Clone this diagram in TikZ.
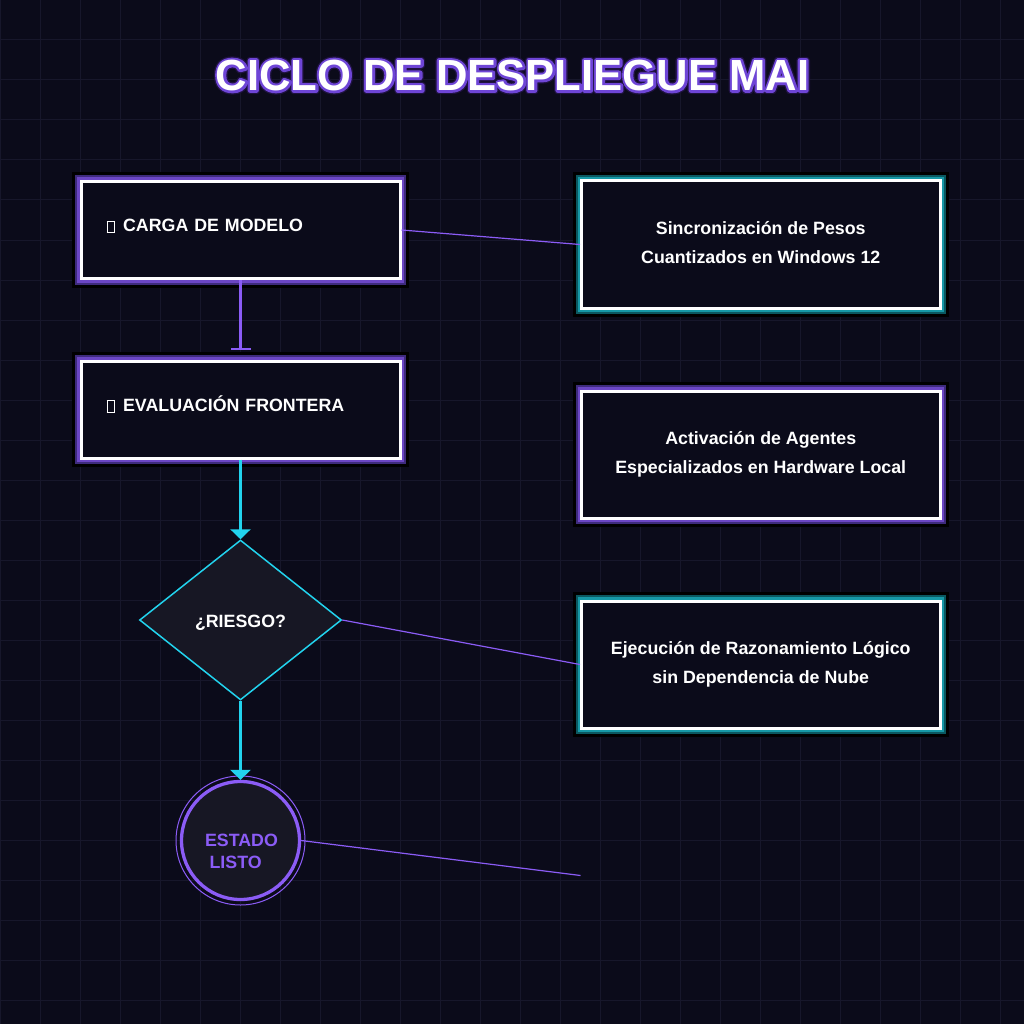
\documentclass[tikz,border=0pt]{standalone}
\usepackage{fontspec}
\setmainfont{Liberation Sans}
\usetikzlibrary{arrows.meta,shapes.geometric}
\definecolor{bg}{HTML}{0B0B1A}
\definecolor{gridc}{HTML}{17172B}
\definecolor{purp}{HTML}{8B5CF6}
\definecolor{purpglow}{HTML}{6B46C4}
\definecolor{purpdark}{HTML}{3E2B7C}
\definecolor{tealglow}{HTML}{1698A6}
\definecolor{tealdark}{HTML}{0B5860}
\definecolor{cyanc}{HTML}{22D3EE}
\definecolor{shapefill}{HTML}{171724}
\newcommand\strokedtext[3]{\rlap{\special{pdf:literal direct 1 Tr #1 w 1 j #2 RG}#3\special{pdf:literal direct 0 Tr 1 w 0 j}}}
\newcommand\tofu{{\fboxsep=0pt\fboxrule=0.8pt\fbox{\rule{0pt}{10.5pt}\hspace{6.5pt}}}\hspace{8.5pt}}
\newcommand\titletext{CICLO DE DESPLIEGUE MAI}
\tikzset{
  glowbox/.style 2 args={rectangle, inner sep=0pt, fill=bg, draw=white, line width=3pt, text=white,
     preaction={draw=black, line width=18pt},
     preaction={draw=#2, line width=12pt},
     preaction={draw=#1, line width=8pt}},
  leftbox/.style={glowbox={purpglow}{purpdark}, minimum width=319pt, minimum height=97pt,
     text width=268pt, align=left, text height=10pt, text depth=6pt,
     font=\bfseries\fontsize{17.8}{21}\selectfont},
  rightbox/.style={glowbox={#1glow}{#1dark}, minimum width=358.5pt, minimum height=127pt,
     align=center, text height=37pt, text depth=0pt,
     font=\bfseries\fontsize{17.8}{29}\selectfont},
  decision/.style={diamond, minimum width=202pt, minimum height=160pt, inner sep=0pt,
     draw=cyanc, line width=1.5pt, fill=shapefill, text=white, text height=14.6pt, text depth=0pt,
     font=\bfseries\fontsize{17.8}{21}\selectfont},
  endstate/.style={circle, minimum size=118pt, inner sep=0pt, draw=purp, line width=3.3pt,
     fill=shapefill, text=purp, align=left, text height=55.6pt, text depth=0pt,
     font=\bfseries\fontsize{17.8}{21.6}\selectfont},
  flowpurple/.style={purp, line width=2.5pt, -{Bar[width=20pt,line width=2pt]}, shorten >=9.5pt},
  flowcyan/.style={cyanc, line width=2.5pt, -{Triangle[width=20pt,length=10pt]}},
  thinlink/.style={purp, line width=1.2pt},
  gridline/.style={gridc, line width=1pt}
}
\begin{document}
\begin{tikzpicture}[x=1pt,y=-1pt]
\useasboundingbox (0,0) rectangle (1024,1024);
\fill[bg] (0,0) rectangle (1024,1024);
\foreach \i in {0,40,...,1000}{
  \draw[gridline] (\i,0) -- (\i,1024);
  \draw[gridline] (0,\i) -- (1024,\i);
}
% title
\node[inner sep=0pt, text=white, text height=31pt, text depth=0pt, font=\bfseries\fontsize{43.6}{50}\selectfont] (title) at (512.5,75)
  {\strokedtext{7.4}{0.12 0.07 0.25}{\titletext}\strokedtext{4.8}{0.43 0.27 0.84}{\titletext}\titletext};
% nodes
\node[leftbox] (carga) at (240.5,230) {\tofu CARGA DE MODELO};
\node[leftbox] (eval) at (240.5,409.5) {\tofu EVALUACIÓN FRONTERA};
\node[rightbox=teal] (sync) at (760.75,244.5) {Sincronización de Pesos\\Cuantizados en Windows 12};
\node[rightbox=purp] (act) at (760.75,454.5) {Activación de Agentes\\Especializados en Hardware Local};
\node[rightbox=teal] (exec) at (760.75,664.5) {Ejecución de Razonamiento Lógico\\sin Dependencia de Nube};
\node[decision] (risk) at (240.5,620) {¿RIESGO?};
\node[endstate] (done) at (240.5,840.5) {\hspace{2pt}ESTADO\\\hspace{6.5pt}LISTO};
\draw[purp, line width=1pt] (done.center) circle[radius=64.5pt];
\coordinate (free) at (580.5,875.5);
% connectors
\draw[flowpurple] (carga.south) -- (eval.north);
\draw[flowcyan] (eval.south) -- (risk.north);
\draw[flowcyan] (risk.south) -- (done.north);
\draw[thinlink] (carga.east) -- (sync.west);
\draw[thinlink] (risk.east) -- (exec.west);
\draw[thinlink] (done.east) -- (free);
\end{tikzpicture}
\end{document}
